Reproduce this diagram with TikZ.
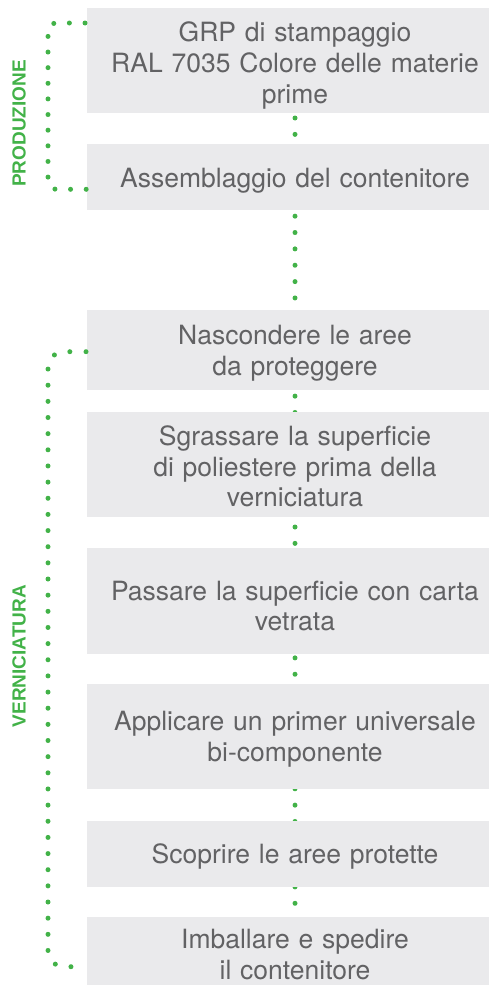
\documentclass[tikz,border=0pt]{standalone}
\usepackage{fontspec}
\setmainfont{TeX Gyre Heros}
\setsansfont{Liberation Sans}
\usetikzlibrary{backgrounds}
\definecolor{boxgray}{RGB}{234,234,236}
\definecolor{txtgray}{RGB}{98,98,100}
\definecolor{dotgreen}{RGB}{66,178,72}
\begin{document}
\begin{tikzpicture}[x=1pt,y=-1pt,
  stepbox/.style={fill=boxgray, inner sep=0pt, minimum width=416pt},
  steptext/.style={inner sep=0pt, text width=400pt, align=center,
    font=\fontsize{26.5}{30.6}\selectfont, text=txtgray},
  dotline/.style={draw=dotgreen, line width=5pt, line cap=round},
  phaselabel/.style={text=dotgreen, font=\sffamily\bfseries\fontsize{19}{19}\selectfont, rotate=90, inner sep=0pt}]
\useasboundingbox (0,0) rectangle (489,985);
\clip (0,0) rectangle (489,985);
\node[stepbox, minimum height=105pt] (b1) at (295,60.5) {};
\node[stepbox, minimum height=66pt] (b2) at (295,177) {};
\node[stepbox, minimum height=80pt] (b3) at (295,350) {};
\node[stepbox, minimum height=105pt] (b4) at (295,464.5) {};
\node[stepbox, minimum height=106pt] (b5) at (295,601) {};
\node[stepbox, minimum height=105pt] (b6) at (295,736.5) {};
\node[stepbox, minimum height=66pt] (b7) at (295,854) {};
\node[stepbox, minimum height=80pt] (b8) at (295,957) {};
\node[steptext, yshift=-5pt] (t1) at (b1.center) {GRP di stampaggio\\RAL 7035 Colore delle materie\\prime};
\node[steptext, yshift=-4pt] (t2) at (b2.center) {Assemblaggio del contenitore};
\node[steptext, yshift=-3pt] (t3) at (b3.center) {Nascondere le aree\\da proteggere};
\node[steptext, yshift=-2pt] (t4) at (b4.center) {Sgrassare la superficie\\di poliestere prima della\\verniciatura};
\node[steptext, yshift=-5pt] (t5) at (b5.center) {Passare la superficie con carta\\vetrata};
\node[steptext, yshift=-3pt] (t6) at (b6.center) {Applicare un primer universale\\bi-componente};
\node[steptext, yshift=-2pt] (t7) at (b7.center) {Scoprire le aree protette};
\node[steptext, yshift=2.5pt] (t8) at (b8.center) {Imballare e spedire\\il contenitore};
\coordinate (ltop) at (295,118);
\coordinate (lbot) at (295,990);
\begin{scope}[on background layer]
\draw[dotline, dash pattern=on 0pt off 16.36pt] (ltop) -- (lbot);
\end{scope}
\coordinate (p1) at (85,23);
\coordinate (p2) at (48,23);
\coordinate (p3) at (48,189.3);
\coordinate (p4) at (87,189.3);
\draw[dotline, rounded corners=8pt, dash pattern=on 0pt off 15.63pt] (p1) -- (p2) -- (p3) -- (p4);
\coordinate (v1) at (86,351.7);
\coordinate (v2) at (48,351.7);
\coordinate (v3) at (48,966.7);
\coordinate (v4) at (87,966.7);
\draw[dotline, rounded corners=16pt, dash pattern=on 0pt off 16.15pt] (v1) -- (v2) -- (v3) -- (v4);
\node[phaselabel] (prod) at (19,123.5) {PRODUZIONE};
\node[phaselabel] (vern) at (19,656) {VERNICIATURA};
\end{tikzpicture}
\end{document}
